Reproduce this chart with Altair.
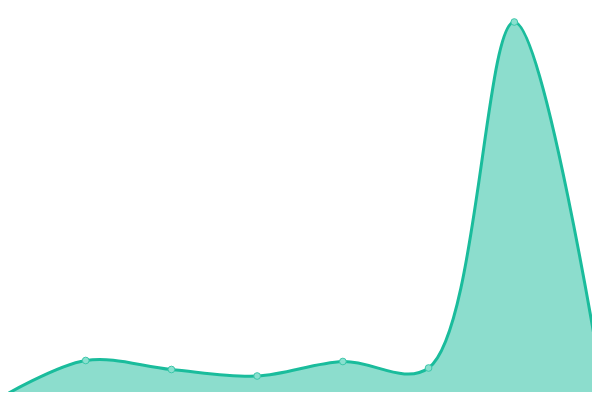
import altair as alt
import pandas as pd

idx = [0, 1, 2, 3, 4, 5, 6, 7]
values = [2, 39.5, 30.5, 24, 38.5, 32, 378, 29]

df = pd.DataFrame({"i": idx, "v": values})

step = 600 / 7
x = alt.X("i:Q", scale=alt.Scale(domain=[8 / step, 592 / step], nice=False, zero=False), axis=None)
y = alt.Y("v:Q", scale=alt.Scale(domain=[8, 392], nice=False, zero=False), axis=None)

base = alt.Chart(df)
area = base.mark_area(interpolate="catmull-rom", color="#1abc9c", opacity=0.5, clip=True).encode(
    x=x, y=y, y2=alt.datum(0))
line = base.mark_line(interpolate="catmull-rom", color="#1abc9c", strokeWidth=3, clip=True).encode(x=x, y=y)
pts = base.mark_point(filled=True, size=45, fill="#8ae0cf", stroke="#3cc7aa", strokeWidth=1, opacity=1, clip=True).encode(x=x, y=y)

chart = (area + line + pts).properties(
    width=584, height=384, padding=0, autosize=alt.AutoSizeParams(type="none")
).configure_view(stroke=None)
chart.save("out.html", embed_options={"renderer": "svg", "actions": False})
